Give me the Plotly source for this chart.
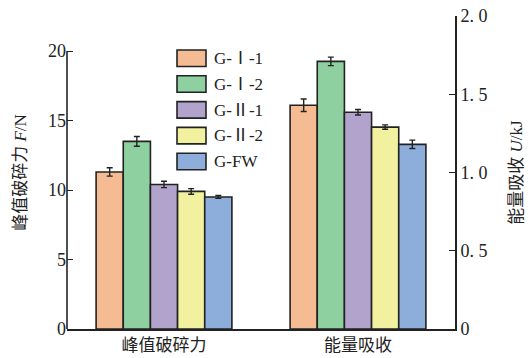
import plotly.graph_objects as go

# Data
categories = ["峰值破碎力", "能量吸收"]
series_names = ["G-Ⅰ-1", "G-Ⅰ-2", "G-Ⅱ-1", "G-Ⅱ-2", "G-FW"]
peak_force = [11.3, 13.5, 10.4, 9.9, 9.5]          # F / N
peak_force_err = [0.3, 0.35, 0.23, 0.2, 0.1]
energy = [1.43, 1.71, 1.385, 1.29, 1.18]           # U / kJ
energy_err = [0.04, 0.027, 0.018, 0.014, 0.027]
colors = ["#F5BC93", "#8FD0A0", "#B2A3CD", "#F2F1A0", "#8DAEDB"]

left_ticks = [0, 5, 10, 15, 20]
right_ticks = [0, 0.5, 1.0, 1.5, 2.0]
right_ticktext = ["0", "0. 5", "1. 0", "1. 5", "2. 0"]

W, H = 530, 358
ML, MR, MT, MB = 67, 75, 16, 29
PW, PH = W - ML - MR, H - MT - MB

FONT = "'Liberation Serif', 'Times New Roman', 'Noto Sans CJK SC', serif"
CJK = "'Noto Sans CJK SC', sans-serif"
EDGE = "#222222"

bar_w = 0.14
n = len(series_names)

fig = go.Figure()
for i, name in enumerate(series_names):
    off = -bar_w * n / 2 + i * bar_w
    common = dict(
        width=bar_w, offset=off, showlegend=False, name=name,
        marker=dict(color=colors[i], line=dict(color=EDGE, width=1.6)),
    )
    fig.add_trace(go.Bar(
        x=[categories[0]], y=[peak_force[i]], yaxis="y",
        error_y=dict(type="data", array=[peak_force_err[i]], color=EDGE,
                     thickness=1.4, width=3),
        **common))
    fig.add_trace(go.Bar(
        x=[categories[1]], y=[energy[i]], yaxis="y2",
        error_y=dict(type="data", array=[energy_err[i]], color=EDGE,
                     thickness=1.4, width=3),
        **common))

# Hand-drawn legend with wide swatches
def px_to_paper_x(px):
    return (px - ML) / PW

def px_to_paper_y(py):
    return (H - MB - py) / PH

shapes = []
annotations = []
for i, name in enumerate(series_names):
    top = 50 + i * 25.8
    shapes.append(dict(
        type="rect", xref="paper", yref="paper",
        x0=px_to_paper_x(177), x1=px_to_paper_x(206),
        y0=px_to_paper_y(top + 16.5), y1=px_to_paper_y(top),
        fillcolor=colors[i], line=dict(color=EDGE, width=1.6)))
    annotations.append(dict(
        xref="paper", yref="paper", x=px_to_paper_x(212),
        y=px_to_paper_y(top + 8.5), text=name, showarrow=False,
        xanchor="left", yanchor="middle",
        font=dict(family=FONT, size=17, color="#222")))

# Left axis line only reaches the top tick
shapes.append(dict(type="line", xref="paper", yref="y", x0=0, x1=0, y0=0, y1=20,
                   line=dict(color=EDGE, width=1.6)))

fig.update_layout(
    width=W, height=H,
    margin=dict(l=ML, r=MR, t=MT, b=MB, pad=0, autoexpand=False),
    paper_bgcolor="white", plot_bgcolor="white",
    barmode="overlay",
    shapes=shapes, annotations=annotations,
    xaxis=dict(
        type="category", range=[-0.5, 1.5], showline=True, linecolor=EDGE,
        linewidth=1.6, ticks="", showgrid=False, automargin=False,
        tickfont=dict(family=CJK, size=17, color="#222"),
    ),
    yaxis=dict(
        range=[0, 22.52], tickvals=left_ticks, ticks="inside", ticklen=6,
        tickwidth=1.4, tickcolor=EDGE, showline=False, showgrid=False,
        zeroline=False, automargin=False,
        tickfont=dict(family=FONT, size=18, color="#222"),
        title=dict(text="峰值破碎力 <i>F</i>/N", standoff=17,
                   font=dict(family=FONT, size=17, color="#222")),
    ),
    yaxis2=dict(
        overlaying="y", side="right", range=[0, 2.0],
        tickvals=right_ticks, ticktext=right_ticktext,
        ticks="inside", ticklen=6, tickwidth=1.4, tickcolor=EDGE,
        showline=True, linecolor=EDGE, linewidth=1.6, showgrid=False,
        zeroline=False, automargin=False,
        tickfont=dict(family=FONT, size=18, color="#222"),
        title=dict(text="能量吸收 <i>U</i>/kJ", standoff=24,
                   font=dict(family=FONT, size=17, color="#222")),
    ),
)

fig.write_html("out.html")
